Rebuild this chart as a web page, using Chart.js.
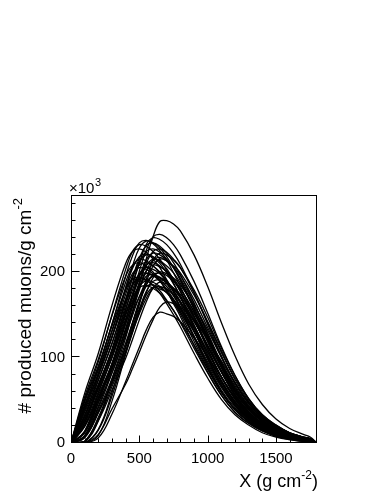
<!DOCTYPE html>
<html><head><meta charset="utf-8">
<script src="https://cdn.jsdelivr.net/npm/chart.js@4"></script>
<style>html,body{margin:0;padding:0;background:#fff}canvas{display:block}</style>
</head><body>
<canvas id="c" width="382" height="494"></canvas>
<script>
// slant depth grid (g cm^-2)
const depthX = [0,100,200,300,400,450,500,550,600,650,700,750,800,900,1000,1100,1200,1300,1400,1500,1600,1700,1750,1800];

// produced muons per g cm^-2 (x10^3), one array per shower
const c1  = [0,58,105,161,210,224,227,223,215,205,191,176,159,123,89,60,39,25,15,8,5,3,2,0];
const c2  = [0,50,90,137,179,192,194,191,184,175,163,150,136,105,76,51,33,21,12,7,4,2,2,0];
const c3  = [0,51,95,150,203,224,232,230,224,215,202,187,171,135,99,67,44,28,17,10,6,3,2,0];
const c4  = [0,48,88,139,188,207,215,213,207,199,187,173,158,125,91,62,41,26,16,9,5,3,2,0];
const c5  = [0,43,80,124,168,185,192,190,185,178,167,155,141,111,82,56,36,23,14,8,5,2,2,0];
const c6  = [0,40,82,130,182,204,218,221,217,210,199,186,171,138,103,72,47,30,19,11,6,4,2,0];
const c7  = [0,36,74,117,164,184,197,199,196,189,180,168,154,124,93,65,43,27,17,10,6,3,2,0];
const c8  = [0,33,68,108,152,170,182,184,181,175,166,155,142,115,86,60,39,25,16,9,5,3,2,0];
const c9  = [0,32,78,124,181,207,228,236,234,228,218,205,190,156,118,84,55,35,22,13,8,4,3,0];
const c10 = [0,30,73,116,168,193,212,220,218,212,204,191,177,145,110,78,52,33,21,12,7,4,3,0];
const c11 = [0,28,68,108,157,179,198,205,203,198,190,178,165,135,103,73,48,31,19,11,7,4,3,0];
const c12 = [0,26,63,100,145,166,183,190,188,183,176,165,153,125,95,67,45,28,18,10,6,3,2,0];
const c13 = [0,23,65,107,161,187,210,224,227,223,215,205,191,159,123,89,60,39,25,15,8,5,4,0];
const c14 = [0,21,60,100,149,174,195,208,211,207,200,190,178,148,114,83,56,36,23,14,8,4,3,0];
const c15 = [0,20,56,93,140,162,182,195,197,194,187,178,166,138,107,77,52,34,21,13,7,4,3,0];
const c16 = [0,19,53,87,131,153,171,183,185,182,176,167,156,130,100,73,49,32,20,12,7,4,3,0];
const c17 = [0,14,58,101,155,184,210,232,240,238,232,222,209,176,139,102,70,46,29,18,10,6,4,0];
const c18 = [0,13,53,93,143,170,194,214,222,220,214,205,193,163,129,94,64,42,27,16,9,5,4,0];
const c19 = [0,12,50,87,134,159,182,201,208,206,201,192,181,153,121,88,60,40,25,15,9,5,4,0];
const c20 = [0,12,47,82,126,149,171,188,195,193,188,180,170,143,113,83,57,37,23,14,8,5,3,0];
const c21 = [0,9,47,92,143,173,201,225,241,244,240,232,220,189,152,113,79,52,33,21,12,7,5,0];
const c22 = [0,8,41,82,128,154,179,201,214,217,213,206,196,168,135,101,70,46,29,18,11,6,5,0];
const c23 = [0,7,38,75,117,141,164,184,197,199,196,189,180,154,124,93,65,43,27,17,10,6,4,0];
const c24 = [0,6,35,69,108,130,151,169,181,183,180,174,165,142,114,85,59,39,25,15,9,5,4,0];
const c25 = [0,2,30,71,113,139,164,188,207,215,213,207,199,173,142,108,76,51,32,20,12,7,5,0];
const c26 = [0,2,28,66,105,129,153,175,193,200,198,193,185,161,132,100,71,47,30,19,11,6,5,0];
const c27 = [0,2,26,62,99,121,144,165,181,188,186,181,174,151,124,94,67,44,28,18,10,6,5,0];
const c28 = [0,1,26,75,123,153,185,215,241,259,260,256,248,220,183,141,102,69,45,28,17,10,7,0];
const c29 = [0,0,10,40,69,87,106,126,144,159,165,163,159,144,121,96,70,48,31,20,12,7,5,0];
const c30 = [0,0,6,34,72,92,112,132,147,153,151,148,142,123,101,77,54,36,23,15,8,5,4,0];
const c31 = [0,0,9,49,104,133,162,191,213,222,220,214,205,179,147,111,79,52,33,21,12,7,5,0];
const c32 = [0,0,15,55,106,131,155,173,182,180,176,168,158,134,106,77,53,35,22,13,8,4,3,0];
const c33 = [0,45,85,132,179,198,205,203,198,190,178,165,151,119,87,59,39,25,15,9,5,3,2,0];
const c34 = [0,38,79,124,174,195,208,211,207,200,190,178,163,131,98,68,45,29,18,10,6,3,2,0];
const c35 = [0,27,65,104,151,173,191,198,196,191,183,172,159,131,99,70,47,30,19,11,6,4,3,0];
const c36 = [0,24,67,110,166,193,216,231,234,230,222,211,197,164,127,92,62,40,25,15,9,5,4,0];
const c37 = [0,13,52,90,139,164,188,207,215,213,207,199,187,158,125,91,62,41,26,16,9,5,4,0];
const c38 = [0,8,43,86,133,161,187,210,224,227,223,215,205,176,141,106,74,49,31,19,11,6,5,0];
const c39 = [0,54,98,149,195,208,211,207,200,190,178,163,148,114,83,56,36,23,14,8,4,2,2,0];
const c40 = [0,0,16,59,113,140,166,185,195,193,188,180,170,143,113,83,57,37,23,14,8,5,4,0];
const c41 = [0,7,36,72,112,135,157,177,189,191,188,181,172,148,119,89,62,41,26,16,9,5,4,0];
const c42 = [0,42,88,139,195,219,234,237,233,225,214,199,183,148,110,77,51,32,20,12,7,4,3,0];
const showers = [c1,c2,c3,c4,c5,c6,c7,c8,c9,c10,c11,c12,c13,c14,c15,c16,c17,c18,c19,c20,c21,
                 c22,c23,c24,c25,c26,c27,c28,c29,c30,c31,c32,c33,c34,c35,c36,c37,c38,c39,c40,c41,c42];

// axes
const xRange = [0, 1800];
const yRange = [0, 290];
const xMajorTicks = [0,500,1000,1500];
const xMinorTicks = [100,200,300,400,600,700,800,900,1100,1200,1300,1400,1600,1700];
const yMajorTicks = [0,100,200];
const yMinorTicks = [20,40,60,80,120,140,160,180,220,240,260,280];

// texts
const xTitleMain = 'X (g cm';
const xTitleSup = '-2';
const xTitleEnd = ')';
const yTitleMain = '# produced muons/g cm';
const yTitleSup = '-2';
const yFactorMain = '\u00d710';
const yFactorSup = '3';

const FONT = '"Liberation Sans", Arial, Helvetica, sans-serif';

const rootFrame = {
  id: 'rootFrame',
  afterDraw(chart) {
    const {ctx, chartArea: a, scales: {x, y}} = chart;
    ctx.save();
    ctx.strokeStyle = '#000';
    ctx.lineWidth = 1;
    const L = Math.round(a.left) + 0.5, R = Math.round(a.right) - 0.5;
    const T = Math.round(a.top) + 0.5, B = Math.round(a.bottom) - 0.5;
    ctx.strokeRect(L, T, R - L, B - T);
    ctx.beginPath();
    const yt = (v, len) => { const p = Math.round(y.getPixelForValue(v)) - 0.5; ctx.moveTo(L, p); ctx.lineTo(L + len, p); };
    const xt = (v, len) => { const p = Math.round(x.getPixelForValue(v)) + 0.5; ctx.moveTo(p, B); ctx.lineTo(p, B - len); };
    yMajorTicks.forEach(v => yt(v, 8));
    yMinorTicks.forEach(v => yt(v, 4));
    xMajorTicks.forEach(v => xt(v, 7));
    xMinorTicks.forEach(v => xt(v, 4));
    ctx.stroke();

    ctx.fillStyle = '#000';
    ctx.textBaseline = 'alphabetic';
    ctx.textAlign = 'left';
    // x title
    ctx.font = '18px ' + FONT;
    const wEnd = ctx.measureText(xTitleEnd).width;
    const wMain = ctx.measureText(xTitleMain).width;
    ctx.font = '12px ' + FONT;
    const wSup = ctx.measureText(xTitleSup).width;
    const xr = 318;
    const xb = 487;
    ctx.font = '18px ' + FONT;
    ctx.fillText(xTitleMain, xr - wEnd - wSup - wMain, xb);
    ctx.fillText(xTitleEnd, xr - wEnd, xb);
    ctx.font = '12px ' + FONT;
    ctx.fillText(xTitleSup, xr - wEnd - wSup, xb - 8);

    // y title
    ctx.save();
    ctx.translate(31, 198);
    ctx.rotate(-Math.PI / 2);
    ctx.font = '19px ' + FONT;
    const yMainW = ctx.measureText(yTitleMain).width;
    ctx.font = '13px ' + FONT;
    const ySupW = ctx.measureText(yTitleSup).width;
    ctx.font = '19px ' + FONT;
    ctx.fillText(yTitleMain, -(yMainW + ySupW), 0);
    ctx.font = '13px ' + FONT;
    ctx.fillText(yTitleSup, -ySupW, -9);
    ctx.restore();

    // x10^3 factor
    ctx.font = '15px ' + FONT;
    const fW = ctx.measureText(yFactorMain).width;
    ctx.fillText(yFactorMain, 69, 193);
    ctx.font = '11px ' + FONT;
    ctx.fillText(yFactorSup, 69 + fW + 0.5, 186);
    ctx.restore();
  }
};

const datasets = showers.map((vals, i) => ({
  label: 'shower ' + (i + 1),
  data: depthX.map((xv, j) => ({x: xv, y: vals[j]})),
  borderColor: '#000',
  borderWidth: 1.3,
  pointRadius: 0,
  fill: false,
  tension: 0.4,
  clip: 0
}));

new Chart(document.getElementById('c'), {
  type: 'line',
  data: {datasets},
  plugins: [rootFrame],
  options: {
    responsive: false,
    animation: false,
    events: [],
    layout: {padding: {left: 0, right: 65, top: 195, bottom: 0}},
    plugins: {legend: {display: false}, tooltip: {enabled: false}, title: {display: false}},
    scales: {
      x: {
        type: 'linear', min: xRange[0], max: xRange[1],
        grid: {display: false, drawTicks: false},
        border: {display: false},
        afterBuildTicks: s => { s.ticks = xMajorTicks.map(v => ({value: v})); },
        afterFit: s => { s.height = 51; },
        ticks: {color: '#000', font: {family: FONT, size: 15}, padding: 7, maxRotation: 0, autoSkip: false,
                callback: v => String(v)}
      },
      y: {
        type: 'linear', min: yRange[0], max: yRange[1],
        grid: {display: false, drawTicks: false},
        border: {display: false},
        afterBuildTicks: s => { s.ticks = yMajorTicks.map(v => ({value: v})); },
        afterFit: s => { s.width = 71; },
        ticks: {color: '#000', font: {family: FONT, size: 15}, padding: 6, autoSkip: false,
                callback: v => String(v)}
      }
    }
  }
});
</script>
</body></html>
